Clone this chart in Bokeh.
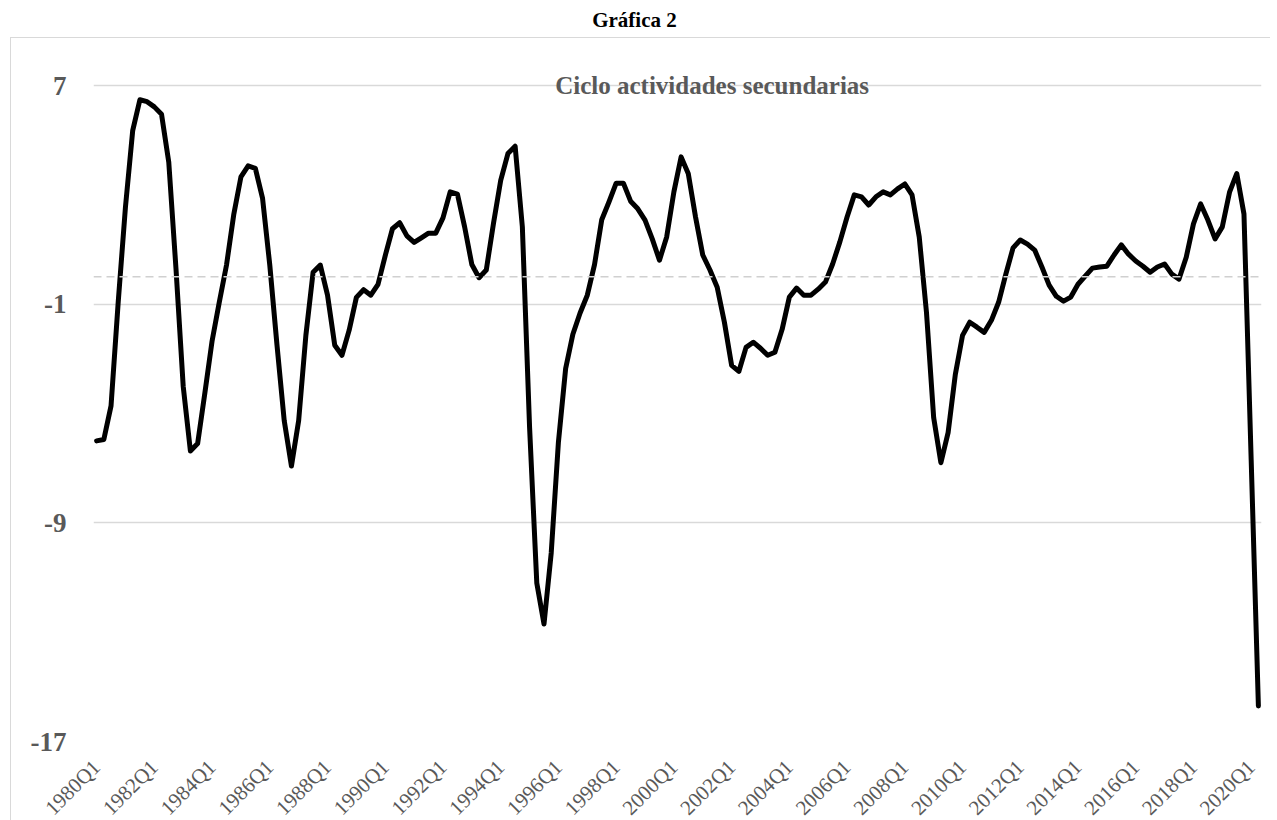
import math
from bokeh.plotting import figure
from bokeh.layouts import column
from bokeh.models import Range1d, FixedTicker, Span, Label, ColumnDataSource, Div
from bokeh.embed import file_html
from bokeh.resources import INLINE

# ---------------- data ----------------
quarters = [f"{y}Q{q}" for y in range(1980, 2021) for q in range(1, 5)][:162]

cycle = [
    -6.0, -5.95, -4.72, -0.9, 2.56, 5.35, 6.48, 6.41, 6.22, 5.95,      # 1980Q1-1982Q2
    4.2, 0.3, -4.0, -6.37, -6.1, -4.25, -2.35, -0.93, 0.43, 2.27,      # 1982Q3-1984Q4
    3.66, 4.06, 3.97, 2.87, 0.43, -2.5, -5.26, -6.92, -5.26, -2.14,    # 1985Q1-1987Q2
    0.17, 0.43, -0.67, -2.5, -2.87, -1.95, -0.75, -0.47, -0.67, -0.27, # 1987Q3-1989Q4
    0.78, 1.76, 1.98, 1.5, 1.26, 1.43, 1.6, 1.6, 2.16, 3.11,           # 1990Q1-1992Q2
    3.03, 1.83, 0.45, -0.03, 0.25, 1.96, 3.53, 4.51, 4.78, 1.83,       # 1992Q3-1994Q4
    -5.5, -11.2, -12.7, -10.1, -6.04, -3.35, -2.1, -1.32, -0.67, 0.45, # 1995Q1-1997Q2
    2.09, 2.74, 3.43, 3.43, 2.77, 2.49, 2.08, 1.39, 0.61, 1.46,        # 1997Q3-1999Q4
    3.11, 4.39, 3.77, 2.19, 0.8, 0.25, -0.38, -1.66, -3.24, -3.46,     # 2000Q1-2002Q2
    -2.58, -2.39, -2.61, -2.87, -2.76, -1.92, -0.74, -0.41, -0.67, -0.67, # 2002Q3-2004Q4
    -0.45, -0.19, 0.47, 1.28, 2.19, 3.0, 2.93, 2.63, 2.93, 3.11,       # 2005Q1-2007Q2
    3.0, 3.22, 3.4, 3.0, 1.46, -1.29, -5.15, -6.8, -5.7, -3.57,        # 2007Q3-2009Q4
    -2.14, -1.66, -1.84, -2.03, -1.59, -0.93, 0.1, 1.06, 1.35, 1.2,    # 2010Q1-2012Q2
    0.98, 0.36, -0.3, -0.71, -0.89, -0.74, -0.27, 0.03, 0.32, 0.36,    # 2012Q3-2014Q4
    0.39, 0.8, 1.17, 0.83, 0.58, 0.39, 0.17, 0.36, 0.47, 0.1,          # 2015Q1-2017Q2
    -0.08, 0.72, 1.94, 2.67, 2.08, 1.39, 1.83, 3.1, 3.78, 2.3,         # 2017Q3-2019Q4
    -6.7, -15.7,                                                        # 2020Q1-2020Q2
]

tick_labels = [f"{y}Q1" for y in range(1980, 2021, 2)]
y_ticks = [7, -1, -9, -17]
y_tick_text = ["7", "-1", "-9", "-17"]

chart_title = "Gráfica 2"
inner_title = "Ciclo actividades secundarias"

# ---------------- figure ----------------
idx = list(range(len(cycle)))
src = ColumnDataSource(dict(x=idx, y=cycle, q=quarters[:len(cycle)]))

PX_PER_UNIT = 655 / 24.0          # 24 units (-17..7) over 655 px
TOP_EXTRA = 39 / PX_PER_UNIT       # room above the "7" gridline for the inner title

p = figure(
    frame_width=1167, frame_height=655 + 39,
    min_border_left=82, min_border_right=10, min_border_top=8, min_border_bottom=0,
    x_range=Range1d(-0.43, len(cycle) - 1 + 0.43),
    y_range=Range1d(-17, 7 + TOP_EXTRA),
    output_backend="svg", toolbar_location=None,
    background_fill_color="white", border_fill_color="white",
)
p.outline_line_color = None
p.margin = (0, 0, 0, 10)
p.styles = {"border-top": "1.5px solid #d9d9d9", "border-left": "1.5px solid #d9d9d9"}

# gridlines
p.xgrid.visible = False
p.ygrid.ticker = FixedTicker(ticks=y_ticks)
p.ygrid.grid_line_color = "#d9d9d9"
p.ygrid.grid_line_width = 1.5

# dashed zero line
p.add_layout(Span(location=0, dimension="width", line_color="#d0d0d0",
                  line_width=1.5, line_dash="8 5"))

# inner title (inside the chart area, on the top gridline)
p.add_layout(Label(x=85.3, y=7, text=inner_title, text_align="center",
                   text_baseline="middle", text_font="Liberation Serif",
                   text_font_style="bold", text_font_size="25px",
                   text_color="#595959"))

# series
p.line("x", "y", source=src, line_color="black", line_width=5,
       line_join="round", line_cap="round")

# y axis
ya = p.yaxis[0]
ya.ticker = FixedTicker(ticks=y_ticks)
ya.major_label_overrides = dict(zip(y_ticks, y_tick_text))
ya.axis_line_color = None
ya.major_tick_line_color = None
ya.minor_tick_line_color = None
ya.major_label_standoff = 21
ya.major_label_text_font = "Liberation Serif"
ya.major_label_text_font_style = "bold"
ya.major_label_text_font_size = "27px"
ya.major_label_text_color = "#595959"

# x axis
xa = p.xaxis[0]
tick_pos = [quarters.index(t) for t in tick_labels]
xa.ticker = FixedTicker(ticks=tick_pos)
xa.major_label_overrides = {i: quarters[i] for i in tick_pos}
xa.major_label_orientation = math.pi / 4
xa.axis_line_color = None
xa.major_tick_line_color = None
xa.minor_tick_line_color = None
xa.major_label_standoff = 16
xa.major_label_text_font = "Liberation Serif"
xa.major_label_text_font_size = "21px"
xa.major_label_text_color = "#595959"

head = Div(text=chart_title, width=1269, height=37, margin=(0, 0, 0, 0),
           styles={"font-family": "Liberation Serif", "font-weight": "bold",
                   "font-size": "21px", "text-align": "center",
                   "line-height": "40px", "color": "black"})

layout = column(head, p, spacing=0)

open("out.html", "w").write(file_html(layout, INLINE))
